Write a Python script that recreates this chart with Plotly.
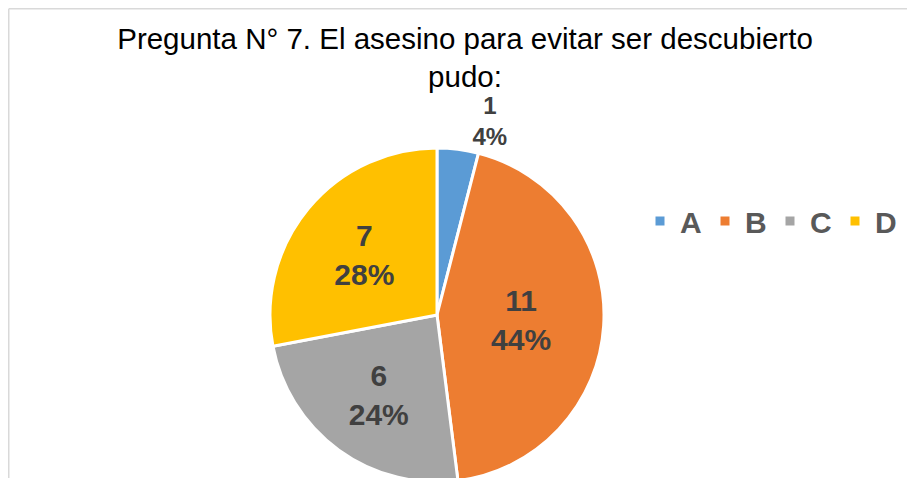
import plotly.graph_objects as go

categories = ["A", "B", "C", "D"]
values = [1, 11, 6, 7]
colors = ["#5B9BD5", "#ED7D31", "#A5A5A5", "#FFC000"]
text_positions = ["outside", "inside", "inside", "inside"]
title_text = "Pregunta N° 7. El asesino para evitar ser descubierto<br>pudo:"

W, H = 915, 478
OFF = 8  # page body margin offset
cx, cy, r = 437 - OFF, 315 - OFF, 167

FONT = "Liberation Sans, Arial"
LABEL_SIZE = 30

fig = go.Figure(go.Pie(
    labels=categories,
    values=values,
    sort=False,
    direction="clockwise",
    rotation=0,
    marker=dict(colors=colors, line=dict(color="white", width=3)),
    texttemplate="%{value}<br>%{percent:.0%}",
    textposition=text_positions,
    insidetextorientation="horizontal",
    textfont=dict(family=FONT, size=LABEL_SIZE, color="#404040", weight="bold"),
    insidetextfont=dict(family=FONT, size=LABEL_SIZE, color="#404040", weight="bold"),
    outsidetextfont=dict(family=FONT, size=24, color="#404040", weight="bold"),
    domain=dict(x=[(cx - r) / W, (cx + r) / W], y=[max(0, (H - cy - r) / H), min(1, (H - cy + r) / H)]),
    hoverinfo="label+value+percent",
))

fig.update_layout(
    width=W, height=H,
    margin=dict(l=0, r=0, t=0, b=0),
    paper_bgcolor="white",
    title=dict(text=title_text, x=(465 - OFF) / W, xanchor="center", y=1 - 41 / H, yanchor="top",
               font=dict(family=FONT, size=29.5, color="#000000")),
    legend=dict(orientation="h", x=632 / W, xanchor="left", y=1 - 213 / H, yanchor="middle",
                font=dict(family=FONT, size=30, color="#595959", weight="bold"),
                itemwidth=30, traceorder="normal", entrywidth=20, entrywidthmode="pixels"),
    showlegend=True,
    shapes=[
        dict(type="line", xref="paper", yref="paper", x0=0.75 / W, x1=1, y0=1 - 0.75 / H, y1=1 - 0.75 / H,
             line=dict(color="#D9D9D9", width=1.5)),
        dict(type="line", xref="paper", yref="paper", x0=0.75 / W, x1=0.75 / W, y0=0, y1=1 - 0.75 / H,
             line=dict(color="#D9D9D9", width=1.5)),
    ],
)

fig.write_html("out.html")
